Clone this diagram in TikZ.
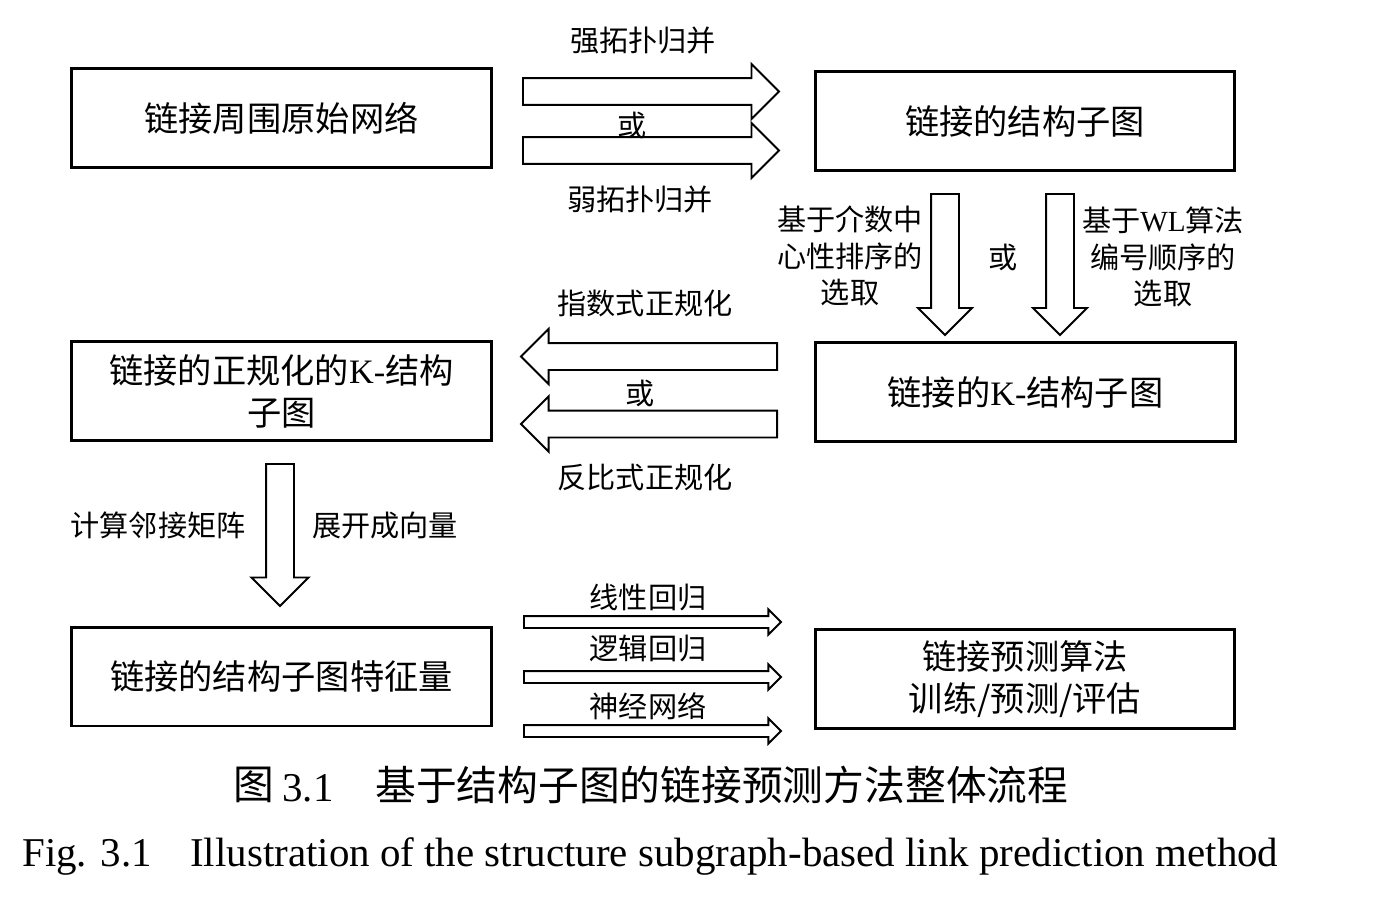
\documentclass[tikz,border=0pt]{standalone}
\usepackage{fontspec}
\setmainfont{Liberation Serif}
\newfontfamily\cjk{Noto Sans CJK SC}
\usetikzlibrary{positioning,shapes.arrows}

\tikzset{
  box/.style={draw, line width=1.7pt, minimum width=8.4cm, minimum height=1.98cm,
    inner sep=0pt, align=center, font=\cjk\fontsize{19.5}{24}\selectfont},
  lab/.style={align=center, inner sep=0pt, font=\cjk\fontsize{16.6}{20.8}\selectfont},
  fatarrow/.style={single arrow, draw, line width=1.1pt, inner sep=0pt,
    text height=0.5cm, text depth=0pt, minimum width=0pt,
    single arrow head extend=0.28cm, single arrow head indent=0pt, anchor=tail},
  thinarrow/.style={fatarrow, text height=0.2cm, single arrow head extend=0.13cm},
  capcn/.style={inner sep=0pt, font=\cjk\fontsize{23.2}{28}\selectfont},
  capen/.style={inner sep=0pt, font=\rmfamily\fontsize{23.3}{28}\selectfont}
}

\begin{document}
\begin{tikzpicture}[x=0.02cm,y=-0.02cm]
\useasboundingbox (0,0) rectangle (1381,919);
% the six steps
\node[box] (raw)  at (281.5,118)  {链接周围原始网络};
\node[box] (sub)  at (1025,121)   {链接的结构子图};
\node[box] (norm) at (281.5,391)  {链接的正规化的{\rmfamily K-}结构\\子图};
\node[box] (ksub) at (1025.5,392) {链接的{\rmfamily K-}结构子图};
\node[box] (feat) at (281.5,676.5) {链接的结构子图特征量};
\node[box] (pred) at (1025,679)   {链接预测算法\\训练/预测/评估};

% merging
\node[fatarrow, minimum height=5.12cm] (r1) at (522,91.5) {};
\node[fatarrow, minimum height=5.12cm] (r2) at (522,150.5) {};
\node[lab] (strong) at (643,40)  {强拓扑归并};
\node[lab] (ror)    at (632,125) {或};
\node[lab] (weak)   at (640,199) {弱拓扑归并};

% selecting K nodes
\node[fatarrow, rotate=-90, minimum height=2.82cm, text height=0.52cm,
  single arrow head extend=0.26cm] (d1) at (945,193) {};
\node[fatarrow, rotate=-90, minimum height=2.82cm, text height=0.52cm,
  single arrow head extend=0.26cm] (d2) at (1060,193) {};
\node[lab] (betw) at (850,256)  {基于介数中\\心性排序的\\选取};
\node[lab] (dor)  at (1003,257) {或};
\node[lab] (wl)   at (1163,257) {基于{\rmfamily WL}算法\\编号顺序的\\选取};

% normalising
\node[fatarrow, rotate=180, minimum height=5.12cm] (l1) at (778,356.5) {};
\node[fatarrow, rotate=180, minimum height=5.12cm] (l2) at (778,424) {};
\node[lab] (expo) at (645,303) {指数式正规化};
\node[lab] (lor)  at (640,393) {或};
\node[lab] (inv)  at (645,477) {反比式正规化};

% to vector
\node[fatarrow, rotate=-90, minimum height=2.84cm, text height=0.52cm,
  single arrow head extend=0.29cm] (d3) at (280,463) {};
\node[lab] (adj) at (158,525) {计算邻接矩阵};
\node[lab] (vec) at (385,525) {展开成向量};

% learners
\node[thinarrow, minimum height=5.14cm] (t1) at (523,622) {};
\node[thinarrow, minimum height=5.14cm] (t2) at (523,677) {};
\node[thinarrow, minimum height=5.14cm] (t3) at (523,731) {};
\node[lab] (lin) at (648,597) {线性回归};
\node[lab] (log) at (648,648) {逻辑回归};
\node[lab] (nn)  at (648,706) {神经网络};

% caption
\node[capcn, anchor=west]      (tu)     at (233,785) {图};
\node[capen, anchor=base west] (tunum)  at (282,801) {3.1};
\node[capcn, anchor=west]      (cntext) at (375,785) {基于结构子图的链接预测方法整体流程};
\node[capen, anchor=base west] (fig)    at (22,866)  {Fig. 3.1};
\node[capen, anchor=base west] (entext) at (190,866) {Illustration of the structure subgraph-based link prediction method};
\end{tikzpicture}
\end{document}
